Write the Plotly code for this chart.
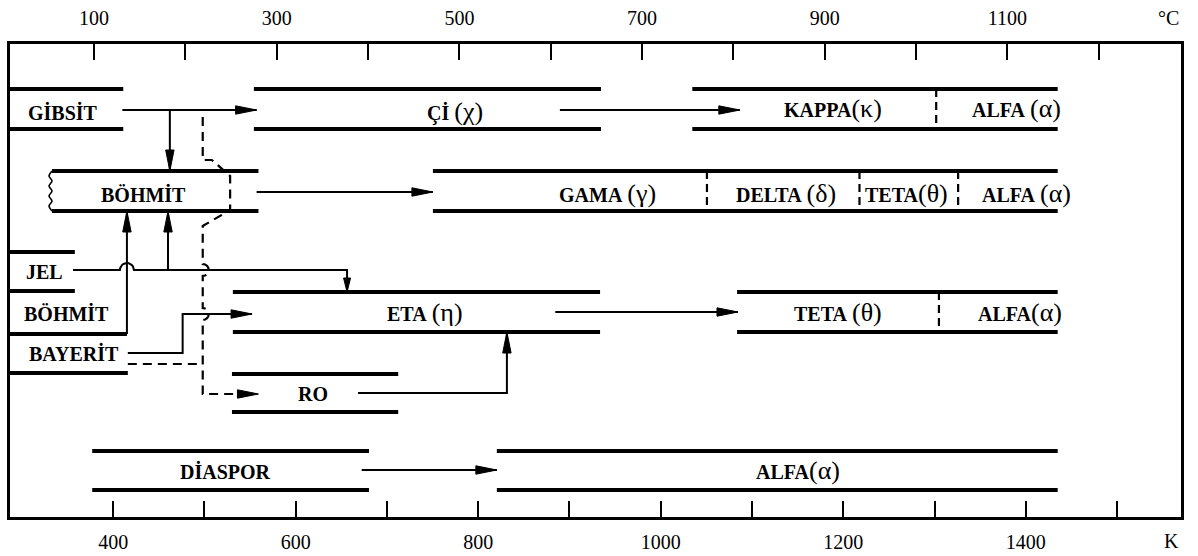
import math
import plotly.graph_objects as go

# ---------------- DATA ----------------
c_tick_values = [100, 200, 300, 400, 500, 600, 700, 800, 900, 1000, 1100, 1200]
c_tick_labels = ["100", "", "300", "", "500", "", "700", "", "900", "", "1100", ""]
k_tick_values = [400, 500, 600, 700, 800, 900, 1000, 1100, 1200, 1300, 1400, 1500]
k_tick_labels = ["400", "", "600", "", "800", "", "1000", "", "1200", "", "1400", ""]

# phase ranges (°C)
gibbsite_end = 132
chi_range = [275, 655]
kappa_range = [755, 1155]
kappa_to_alpha = 1022
boehmite_range = [54, 280]
gamma_range = [471, 1155]
gamma_transitions = [771, 938, 1046]
gel_end = 79
boehmite2_end = 136
bayerite_end = 137
eta_range = [252, 654]
theta_range = [804, 1155]
theta_to_alpha = 1025
rho_range = [251, 433]
diaspore_range = [98, 401]
alpha_range = [541, 1155]

# transformation paths (°C)
gibbsite_chi_arrow = [131, 278]
chi_kappa_arrow = [610, 807]
boehmite_gamma_arrow = [278, 471]
eta_theta_arrow = [605, 805]
diaspore_alpha_arrow = [393, 541]
gibbsite_boehmite_x = 183
gel_boehmite_x = 181
boehmite2_up_x = 136
gel_eta_arrow = [77, 377]
bayerite_eta_path = [137, 197, 273]
bayerite_dash = [137, 219]
gibbsite_rho_dash_x = 219
gibbsite_rho_jog_x = [229, 249]
rho_arrow_tip = 280
rho_eta_path = [389, 552]

# labels
label_texts = ["GİBSİT", "Çİ", "KAPPA", "ALFA", "BÖHMİT", "GAMA", "DELTA", "TETA", "ALFA",
               "JEL", "BÖHMİT", "BAYERİT", "ETA", "TETA", "ALFA", "RO", "DİASPOR", "ALFA"]
label_greek = [None, "χ", "κ", "α", None, "γ", "δ", "θ", "α",
               None, None, None, "η", "θ", "α", None, None, "α"]
label_space = [True, True, False, True, True, True, True, False, True,
               True, True, True, True, True, False, True, True, False]
label_x_c = [66, 495, 909, 1110, 154, 662, 858, 990, 1121,
             46, 70, 78, 462, 914, 1114, 340, 244, 871]

# ---------------- LAYOUT CONSTANTS ----------------
W, H = 1198, 556
ML, MR, MT, MB = 10, 17, 44, 39
X_RANGE = [8, 1290]
K_RANGE = [287, 1570]
Y_TOP, Y_BOT = MT, H - MB          # vertical units follow the page rows
ROW1 = (89, 129)
ROW2 = (171, 211)
GEL = (252, 291)
ROW3 = (292, 332)
BOH2 = (291, 334)
BAY = (334, 373)
RHO = (374, 412)
ROW5 = (451, 490)
row_label_y = [112, 111, 108, 108, 194, 193, 193, 193, 193,
               272, 313, 353, 312, 312, 312, 394, 471, 470]
GEL_LINE_Y = 270
BAY_LINE_Y = 353
BAY_DASH_Y = 364
ETA_ENTRY_Y = 314
RHO_LINE_Y = 393

PLOT_W = W - ML - MR


def c2px(c):
    return ML + (c - X_RANGE[0]) / (X_RANGE[1] - X_RANGE[0]) * PLOT_W


def px2c(p):
    return X_RANGE[0] + (p - ML) * (X_RANGE[1] - X_RANGE[0]) / PLOT_W


fig = go.Figure()

thick = ([], [])
thin = ([], [])
dashed = ([], [])
divs = ([], [])


def seg(store, xs, ys):
    store[0].extend(list(xs) + [None])
    store[1].extend(list(ys) + [None])


def box(store, x0, x1, rows):
    for yy in rows:
        seg(store, [x0, x1], [yy, yy])


# boxes
box(thick, X_RANGE[0], gibbsite_end, ROW1)
box(thick, chi_range[0], chi_range[1], ROW1)
box(thick, kappa_range[0], kappa_range[1], ROW1)
box(thick, boehmite_range[0], boehmite_range[1], ROW2)
box(thick, gamma_range[0], gamma_range[1], ROW2)
box(thick, X_RANGE[0], gel_end, GEL)
seg(thick, [X_RANGE[0], boehmite2_end], [BOH2[1], BOH2[1]])
seg(thick, [X_RANGE[0], bayerite_end], [BAY[1], BAY[1]])
box(thick, eta_range[0], eta_range[1], ROW3)
box(thick, theta_range[0], theta_range[1], ROW3)
box(thick, rho_range[0], rho_range[1], RHO)
box(thick, diaspore_range[0], diaspore_range[1], ROW5)
box(thick, alpha_range[0], alpha_range[1], ROW5)

# phase boundaries (dashed)
seg(divs, [kappa_to_alpha] * 2, list(ROW1))
for t in gamma_transitions:
    seg(divs, [t, t], list(ROW2))
seg(divs, [theta_to_alpha] * 2, list(ROW3))

heads = []

HL, HW = 21, 4.2


def add_head(tip_c, tip_y, d, L=HL, hw=HW):
    tx = c2px(tip_c)
    if d == "right":
        pts = [(tx, tip_y), (tx - L, tip_y - hw), (tx - L, tip_y + hw)]
    elif d == "down":
        pts = [(tx, tip_y), (tx - hw, tip_y - L), (tx + hw, tip_y - L)]
    else:  # up
        pts = [(tx, tip_y), (tx - hw, tip_y + L), (tx + hw, tip_y + L)]
    heads.append(([px2c(p[0]) for p in pts] + [px2c(pts[0][0])],
                  [p[1] for p in pts] + [pts[0][1]]))


ya1 = 110
ya2 = 192
ya3 = 312
ya5 = 470
# horizontal transformation arrows
for (a, b), yy in [(gibbsite_chi_arrow, ya1), (chi_kappa_arrow, ya1), (boehmite_gamma_arrow, ya2),
                   (eta_theta_arrow, ya3), (diaspore_alpha_arrow, ya5)]:
    seg(thin, [a, b], [yy, yy])
    add_head(b, yy, "right")

# gibbsite -> boehmite (down)
seg(thin, [gibbsite_boehmite_x] * 2, [ya1, ROW2[0]])
add_head(gibbsite_boehmite_x, ROW2[0], "down")
# gel -> boehmite (up)
seg(thin, [gel_boehmite_x] * 2, [GEL_LINE_Y, ROW2[1]])
add_head(gel_boehmite_x, ROW2[1], "up")
# boehmite (2) -> boehmite (up)
seg(thin, [boehmite2_up_x] * 2, [BOH2[1], ROW2[1]])
add_head(boehmite2_up_x, ROW2[1], "up")

# gel -> eta with a hop over the vertical line
r = 7
cx = c2px(boehmite2_up_x)
xs = [gel_eta_arrow[0]]
ys = [GEL_LINE_Y]
for i in range(0, 13):
    a = math.pi - i * math.pi / 12
    xs.append(px2c(cx + r * math.cos(a)))
    ys.append(GEL_LINE_Y - r * math.sin(a))
xs += [gel_eta_arrow[1], gel_eta_arrow[1]]
ys += [GEL_LINE_Y, ROW3[0]]
seg(thin, xs, ys)
add_head(gel_eta_arrow[1], ROW3[0], "down", L=14, hw=3.5)

# bayerite -> eta
seg(thin, [bayerite_eta_path[0], bayerite_eta_path[1], bayerite_eta_path[1], bayerite_eta_path[2]],
    [BAY_LINE_Y, BAY_LINE_Y, ETA_ENTRY_Y, ETA_ENTRY_Y])
add_head(bayerite_eta_path[2], ETA_ENTRY_Y, "right")

# rho -> eta
seg(thin, [rho_eta_path[0], rho_eta_path[1], rho_eta_path[1]],
    [RHO_LINE_Y, RHO_LINE_Y, ROW3[1]])
add_head(rho_eta_path[1], ROW3[1], "up")

# dashed: bayerite -> rho and gibbsite -> rho
seg(dashed, bayerite_dash, [BAY_DASH_Y, BAY_DASH_Y])
dx = gibbsite_rho_dash_x
pxs = [dx, dx, gibbsite_rho_jog_x[0], gibbsite_rho_jog_x[1], gibbsite_rho_jog_x[1], dx]
pys = [117, 160, 160, 176, 210, 226]
dpx = c2px(dx)
for yb in [GEL_LINE_Y, ETA_ENTRY_Y]:
    rb = 6
    for i in range(0, 9):
        a = -math.pi / 2 + i * math.pi / 8
        pxs.append(px2c(dpx + rb * math.cos(a)))
        pys.append(yb + rb * math.sin(a))
pxs += [dx, rho_arrow_tip - 8]
pys += [RHO_LINE_Y + 1, RHO_LINE_Y + 1]
seg(dashed, pxs, pys)
add_head(rho_arrow_tip, RHO_LINE_Y + 1, "right")

# wavy left edge of the boehmite box
wx, wy = [], []
bx = c2px(boehmite_range[0])
for i in range(9):
    wx.append(px2c(bx - (3 if i % 2 else 0)))
    wy.append(ROW2[0] + i * (ROW2[1] - ROW2[0]) / 8)

common = dict(mode="lines", hoverinfo="skip", showlegend=False)
fig.add_trace(go.Scatter(x=thick[0], y=thick[1], line=dict(color="black", width=3.8), **common))
fig.add_trace(go.Scatter(x=thin[0], y=thin[1], line=dict(color="black", width=2), **common))
fig.add_trace(go.Scatter(x=dashed[0], y=dashed[1], line=dict(color="black", width=2.2, dash="9px,6px"), **common))
fig.add_trace(go.Scatter(x=divs[0], y=divs[1], line=dict(color="black", width=2.2, dash="8px,5px"), **common))
fig.add_trace(go.Scatter(x=wx, y=wy, line=dict(color="black", width=1.6, shape="spline"), **common))
for hx, hy in heads:
    fig.add_trace(go.Scatter(x=hx, y=hy, fill="toself", fillcolor="black",
                             line=dict(color="black", width=1), **common))
# kelvin axis carrier
fig.add_trace(go.Scatter(x=K_RANGE, y=[Y_BOT, Y_BOT], xaxis="x2", mode="markers",
                         marker=dict(opacity=0), hoverinfo="skip", showlegend=False))

FONT = "Liberation Serif, Times New Roman, serif"
annotations = []
for name, g, sp, xc, yy in zip(label_texts, label_greek, label_space, label_x_c, row_label_y):
    txt = f"<b>{name}</b>"
    if g:
        txt += (" " if sp else "") + f"<span style='font-size:26px'>({g})</span>"
    annotations.append(dict(x=xc, y=yy, xref="x", yref="y", text=txt, showarrow=False,
                            font=dict(family=FONT, size=20, color="black"),
                            xanchor="center", yanchor="middle"))
annotations.append(dict(x=1, y=1, xref="paper", yref="paper", text="°C", showarrow=False,
                        xanchor="right", yanchor="bottom", yshift=13,
                        font=dict(family=FONT, size=20, color="black")))
annotations.append(dict(x=1, y=0, xref="paper", yref="paper", text="K", showarrow=False,
                        xanchor="right", yanchor="top", yshift=-11,
                        font=dict(family=FONT, size=20, color="black")))

axis_common = dict(showgrid=False, zeroline=False, showline=True, linecolor="black", linewidth=3,
                   ticks="inside", ticklen=16, tickwidth=2, tickcolor="black", automargin=False,
                   tickfont=dict(family=FONT, size=20, color="black"))

fig.update_layout(
    width=W, height=H,
    margin=dict(l=ML, r=MR, t=MT, b=MB, autoexpand=False),
    paper_bgcolor="white", plot_bgcolor="white",
    hovermode=False,
    xaxis=dict(range=X_RANGE, side="top", tickmode="array", tickvals=c_tick_values,
               ticktext=c_tick_labels, ticklabelstandoff=8, **axis_common),
    xaxis2=dict(range=K_RANGE, side="bottom", overlaying="x", anchor="y", tickmode="array",
                tickvals=k_tick_values, ticktext=k_tick_labels, ticklabelstandoff=5, **axis_common),
    yaxis=dict(range=[Y_BOT, Y_TOP], showgrid=False, zeroline=False, showline=True, mirror=True,
               linecolor="black", linewidth=3, showticklabels=False, ticks="", automargin=False),
    annotations=annotations,
)

fig.write_html("out.html")
